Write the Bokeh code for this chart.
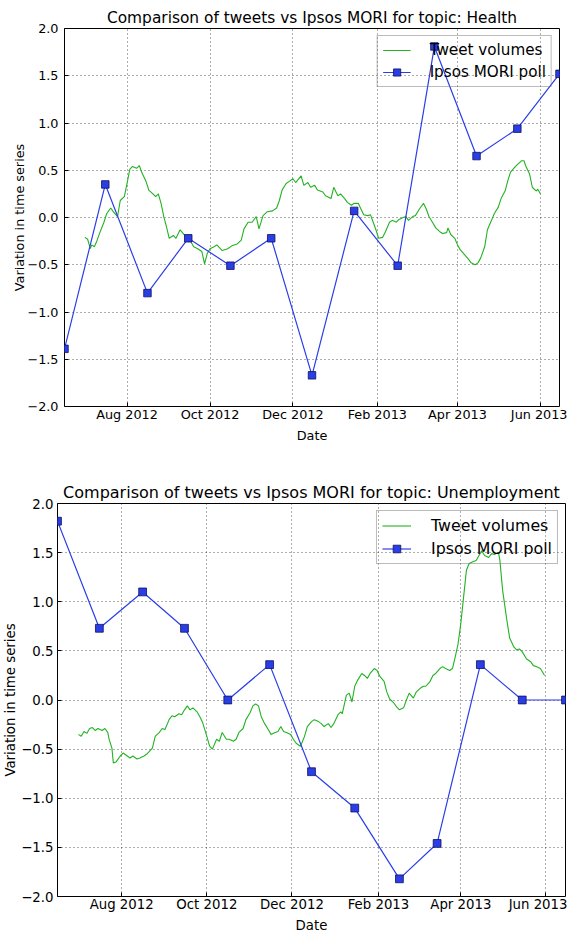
import datetime as dt

from bokeh.embed import file_html
from bokeh.models import (ColumnDataSource, CustomJSTickFormatter, DatetimeTickFormatter,
                          FixedTicker, Legend, LegendItem, Range1d)
from bokeh.plotting import figure
from bokeh.resources import INLINE

# ---- data -------------------------------------------------------------
poll_dates = ["2012-06-16", "2012-07-16", "2012-08-16", "2012-09-15", "2012-10-16",
              "2012-11-15", "2012-12-15", "2013-01-15", "2013-02-16", "2013-03-15",
              "2013-04-15", "2013-05-15", "2013-06-15"]

health_poll = [-1.39, 0.35, -0.80, -0.22, -0.51, -0.22, -1.67, 0.07, -0.51, 1.81, 0.65, 0.94, 1.52]
unemployment_poll = [1.82, 0.73, 1.10, 0.73, 0.00, 0.36, -0.73, -1.10, -1.82, -1.46, 0.36, 0.00, 0.00]

health_tweet_dates = [
    "2012-07-01", "2012-07-03", "2012-07-05", "2012-07-06", "2012-07-08", "2012-07-10",
    "2012-07-12", "2012-07-15", "2012-07-17", "2012-07-20", "2012-07-22", "2012-07-25",
    "2012-07-27", "2012-07-30", "2012-08-01", "2012-08-03", "2012-08-05", "2012-08-08",
    "2012-08-10", "2012-08-12", "2012-08-15", "2012-08-17", "2012-08-20", "2012-08-22",
    "2012-08-24", "2012-08-26", "2012-08-28", "2012-08-30", "2012-09-01", "2012-09-04",
    "2012-09-06", "2012-09-09", "2012-09-13", "2012-09-15", "2012-09-19", "2012-09-22",
    "2012-09-25", "2012-09-27", "2012-09-29", "2012-10-01", "2012-10-04", "2012-10-06",
    "2012-10-10", "2012-10-14", "2012-10-17", "2012-10-21", "2012-10-24", "2012-10-26",
    "2012-10-29", "2012-11-01", "2012-11-04", "2012-11-06", "2012-11-09", "2012-11-12",
    "2012-11-16", "2012-11-19", "2012-11-21", "2012-11-23", "2012-11-26", "2012-11-28",
    "2012-12-01", "2012-12-03", "2012-12-07", "2012-12-09", "2012-12-12", "2012-12-14",
    "2012-12-17", "2012-12-19", "2012-12-23", "2012-12-25", "2012-12-29", "2012-12-31",
    "2013-01-03", "2013-01-05", "2013-01-08", "2013-01-10", "2013-01-13", "2013-01-15",
    "2013-01-18", "2013-01-20", "2013-01-22", "2013-01-25", "2013-01-27", "2013-01-29",
    "2013-01-31", "2013-02-02", "2013-02-05", "2013-02-07", "2013-02-10", "2013-02-12",
    "2013-02-15", "2013-02-17", "2013-02-20", "2013-02-22", "2013-02-24", "2013-02-27",
    "2013-03-01", "2013-03-04", "2013-03-07", "2013-03-09", "2013-03-11", "2013-03-14",
    "2013-03-16", "2013-03-19", "2013-03-21", "2013-03-24", "2013-03-25", "2013-03-27",
    "2013-03-30", "2013-04-01", "2013-04-03", "2013-04-06", "2013-04-09", "2013-04-11",
    "2013-04-14", "2013-04-16", "2013-04-18", "2013-04-21", "2013-04-23", "2013-04-26",
    "2013-04-28", "2013-05-01", "2013-05-03", "2013-05-06", "2013-05-08", "2013-05-10",
    "2013-05-13", "2013-05-15", "2013-05-18", "2013-05-20", "2013-05-21", "2013-05-24",
    "2013-05-26", "2013-05-29", "2013-05-30", "2013-06-01"]
health_tweets = [
    -0.21, -0.23, -0.33, -0.29, -0.31, -0.24,
    -0.16, -0.05, 0.04, 0.10, 0.06, 0.01,
    0.18, 0.22, 0.36, 0.51, 0.54, 0.52,
    0.55, 0.47, 0.38, 0.29, 0.25, 0.22,
    0.25, 0.15, 0.01, -0.10, -0.22, -0.19,
    -0.22, -0.13, -0.20, -0.21, -0.31, -0.33,
    -0.36, -0.49, -0.38, -0.33, -0.31, -0.29,
    -0.35, -0.33, -0.30, -0.28, -0.24, -0.12,
    -0.05, -0.05, 0.01, -0.12, 0.02, 0.06,
    0.07, 0.10, 0.18, 0.29, 0.36, 0.38,
    0.41, 0.37, 0.44, 0.34, 0.37, 0.32,
    0.34, 0.29, 0.27, 0.23, 0.20, 0.32,
    0.23, 0.25, 0.20, 0.16, 0.13, 0.15,
    0.15, 0.09, 0.03, 0.02, 0.03, -0.05,
    -0.13, -0.22, -0.21, -0.15, -0.05, -0.03,
    -0.05, -0.02, 0.00, 0.01, -0.03, 0.01,
    0.02, 0.09, 0.15, 0.09, 0.01, -0.06,
    -0.11, -0.15, -0.17, -0.16, -0.11, -0.18,
    -0.22, -0.29, -0.34, -0.39, -0.44, -0.48,
    -0.50, -0.48, -0.43, -0.31, -0.13, -0.03,
    0.04, 0.11, 0.20, 0.28, 0.39, 0.48,
    0.53, 0.56, 0.60, 0.60, 0.55, 0.46,
    0.32, 0.28, 0.30, 0.25]

unemployment_tweet_dates = [
    "2012-07-01", "2012-07-03", "2012-07-05", "2012-07-07", "2012-07-09", "2012-07-11",
    "2012-07-13", "2012-07-15", "2012-07-18", "2012-07-20", "2012-07-22", "2012-07-23",
    "2012-07-25", "2012-07-26", "2012-07-28", "2012-07-31", "2012-08-02", "2012-08-05",
    "2012-08-07", "2012-08-09", "2012-08-12", "2012-08-14", "2012-08-17", "2012-08-19",
    "2012-08-21", "2012-08-23", "2012-08-25", "2012-08-28", "2012-08-30", "2012-09-01",
    "2012-09-04", "2012-09-06", "2012-09-08", "2012-09-11", "2012-09-13", "2012-09-15",
    "2012-09-17", "2012-09-19", "2012-09-21", "2012-09-24", "2012-09-26", "2012-09-28",
    "2012-10-01", "2012-10-03", "2012-10-05", "2012-10-08", "2012-10-10", "2012-10-12",
    "2012-10-15", "2012-10-17", "2012-10-20", "2012-10-22", "2012-10-24", "2012-10-27",
    "2012-10-29", "2012-11-01", "2012-11-03", "2012-11-05", "2012-11-07", "2012-11-09",
    "2012-11-11", "2012-11-14", "2012-11-16", "2012-11-19", "2012-11-21", "2012-11-23",
    "2012-11-25", "2012-11-27", "2012-11-30", "2012-12-02", "2012-12-04", "2012-12-07",
    "2012-12-08", "2012-12-10", "2012-12-12", "2012-12-15", "2012-12-17", "2012-12-20",
    "2012-12-22", "2012-12-24", "2012-12-27", "2012-12-29", "2012-12-31", "2013-01-03",
    "2013-01-05", "2013-01-06", "2013-01-09", "2013-01-11", "2013-01-13", "2013-01-15",
    "2013-01-17", "2013-01-20", "2013-01-22", "2013-01-24", "2013-01-26", "2013-01-29",
    "2013-01-31", "2013-02-02", "2013-02-05", "2013-02-07", "2013-02-09", "2013-02-12",
    "2013-02-14", "2013-02-16", "2013-02-19", "2013-02-21", "2013-02-23", "2013-02-26",
    "2013-02-28", "2013-03-03", "2013-03-05", "2013-03-07", "2013-03-10", "2013-03-12",
    "2013-03-14", "2013-03-17", "2013-03-19", "2013-03-21", "2013-03-24", "2013-03-26",
    "2013-03-28", "2013-03-30", "2013-04-01", "2013-04-03", "2013-04-05", "2013-04-07",
    "2013-04-10", "2013-04-12", "2013-04-14", "2013-04-16", "2013-04-18", "2013-04-21",
    "2013-04-23", "2013-04-25", "2013-04-28", "2013-04-29", "2013-05-01", "2013-05-04",
    "2013-05-06", "2013-05-09", "2013-05-11", "2013-05-13", "2013-05-15", "2013-05-18",
    "2013-05-21", "2013-05-23", "2013-05-25", "2013-05-28", "2013-05-31"]
unemployment_tweets = [
    -0.35, -0.37, -0.32, -0.34, -0.29, -0.28,
    -0.31, -0.29, -0.31, -0.29, -0.33, -0.40,
    -0.49, -0.64, -0.63, -0.57, -0.54, -0.57,
    -0.59, -0.57, -0.60, -0.59, -0.57, -0.55,
    -0.52, -0.49, -0.37, -0.33, -0.29, -0.30,
    -0.20, -0.16, -0.17, -0.14, -0.15, -0.10,
    -0.06, -0.10, -0.08, -0.12, -0.17, -0.23,
    -0.37, -0.47, -0.50, -0.40, -0.42, -0.33,
    -0.40, -0.40, -0.42, -0.40, -0.33, -0.29,
    -0.20, -0.13, -0.06, -0.04, -0.06, -0.17,
    -0.23, -0.30, -0.35, -0.33, -0.32, -0.27,
    -0.32, -0.33, -0.35, -0.40, -0.44, -0.47,
    -0.44, -0.37, -0.27, -0.22, -0.20, -0.22,
    -0.24, -0.27, -0.24, -0.28, -0.24, -0.15,
    -0.12, -0.14, 0.05, 0.07, -0.02, 0.14,
    0.20, 0.27, 0.25, 0.22, 0.27, 0.32,
    0.30, 0.24, 0.19, 0.08, 0.01, -0.03,
    -0.07, -0.10, -0.08, 0.00, 0.07, 0.02,
    0.08, 0.12, 0.14, 0.14, 0.19, 0.25,
    0.27, 0.32, 0.34, 0.32, 0.30, 0.32,
    0.44, 0.57, 0.78, 1.05, 1.32, 1.39,
    1.41, 1.42, 1.47, 1.52, 1.47, 1.45,
    1.49, 1.48, 1.50, 1.42, 1.11, 0.81,
    0.63, 0.54, 0.51, 0.52, 0.49, 0.42,
    0.39, 0.35, 0.34, 0.32, 0.25]

date_ticks = ["2012-08-01", "2012-10-01", "2012-12-01", "2013-02-01", "2013-04-01", "2013-06-01"]
value_ticks = [-2.0, -1.5, -1.0, -0.5, 0.0, 0.5, 1.0, 1.5, 2.0]

FONT = "DejaVu Sans"
GREEN = "#22b222"
BLUE = "#2a3ee8"


def to_dt(s):
    return dt.datetime.strptime(s, "%Y-%m-%d")


def to_ms(s):
    return (to_dt(s) - dt.datetime(1970, 1, 1)).total_seconds() * 1000.0


def make_chart(topic, tweet_dates, tweet_vals, poll_vals, s, height, borders,
               y_standoffs, x_standoffs):
    left, right, top, bottom = borders
    p = figure(width=567, height=height, x_axis_type="datetime",
               x_range=Range1d(to_dt(poll_dates[0]), to_dt(poll_dates[-1])),
               y_range=Range1d(-2.0, 2.0),
               output_backend="svg", toolbar_location=None,
               min_border_left=left, min_border_right=right,
               min_border_top=top, min_border_bottom=bottom,
               background_fill_color="white", border_fill_color="white")

    # title
    p.title.text = f"Comparison of tweets vs Ipsos MORI for topic: {topic}"
    p.title.align = "center"
    p.title.text_font = FONT
    p.title.text_font_style = "normal"
    p.title.text_font_size = f"{15.4 * s:.1f}px"
    p.title.text_color = "black"
    p.title.standoff = 4

    # frame
    p.outline_line_color = "black"
    p.outline_line_width = 1
    p.outline_line_alpha = 1

    # axes
    p.xaxis.ticker = FixedTicker(ticks=[to_ms(d) for d in date_ticks])
    fmt = "%b %Y"
    p.xaxis.formatter = DatetimeTickFormatter(days=fmt, months=fmt, years=fmt)
    p.yaxis.ticker = FixedTicker(ticks=value_ticks)
    p.yaxis.formatter = CustomJSTickFormatter(
        code="return tick.toFixed(1).replace('-', '\u2212');")
    p.xaxis.axis_label = "Date"
    p.yaxis.axis_label = "Variation in time series"
    for ax in (p.xaxis, p.yaxis):
        ax.axis_line_color = None
        ax.major_tick_in = 4
        ax.major_tick_out = 0
        ax.major_tick_line_color = "black"
        ax.minor_tick_line_color = None
        ax.major_label_text_font = FONT
        ax.major_label_text_font_size = f"{12.8 * s:.1f}px"
        ax.major_label_text_color = "black"
        ax.axis_label_text_font = FONT
        ax.axis_label_text_font_size = f"{12.8 * s:.1f}px"
        ax.axis_label_text_font_style = "normal"
        ax.axis_label_text_color = "black"
    p.xaxis.major_label_standoff = x_standoffs[0]
    p.xaxis.axis_label_standoff = x_standoffs[1]
    p.yaxis.major_label_standoff = y_standoffs[0]
    p.yaxis.axis_label_standoff = y_standoffs[1]

    # dotted grid
    p.grid.grid_line_color = "#333333"
    p.grid.grid_line_alpha = 0.8
    p.grid.grid_line_width = 1
    p.grid.grid_line_dash = "1 3"

    tweets = ColumnDataSource(dict(x=[to_dt(d) for d in tweet_dates], y=tweet_vals))
    poll = ColumnDataSource(dict(x=[to_dt(d) for d in poll_dates], y=poll_vals))

    g = p.line("x", "y", source=tweets, line_color=GREEN, line_width=1.1)
    bl = p.line("x", "y", source=poll, line_color=BLUE, line_width=1.2)
    bm = p.scatter("x", "y", source=poll, marker="square", size=7.5 * s,
                   fill_color=BLUE, line_color="#10105a", line_width=0.8)

    # see-through legend so the series stay visible where they pass behind it
    legend = Legend(items=[LegendItem(label="Tweet volumes", renderers=[g]),
                           LegendItem(label="Ipsos MORI poll", renderers=[bl, bm])],
                    location="top_right")
    legend.margin = 7
    legend.padding = int(round(5 * s))
    legend.spacing = int(round(4 * s))
    legend.glyph_width = int(round(28 * s))
    legend.glyph_height = int(round(18 * s))
    legend.label_height = int(round(18 * s))
    legend.label_standoff = int(round(19 * s))
    legend.label_text_font = FONT
    legend.label_text_font_size = f"{15.2 * s:.1f}px"
    legend.label_text_color = "black"
    legend.border_line_color = "#777777"
    legend.border_line_width = 1
    legend.background_fill_alpha = 0.0
    p.add_layout(legend)
    return p


top_chart = make_chart("Health", health_tweet_dates, health_tweets, health_poll,
                       1.0, 468, (64, 8, 28, 62), (6, -3), (0, 3))
bottom_chart = make_chart("Unemployment", unemployment_tweet_dates, unemployment_tweets,
                          unemployment_poll, 1.04, 467, (57, 2, 35, 37), (4, 0), (0, 3))

# two independent roots, stacked one above the other, each keeping its own frame
with open("out.html", "w") as f:
    f.write(file_html([top_chart, bottom_chart], INLINE))
